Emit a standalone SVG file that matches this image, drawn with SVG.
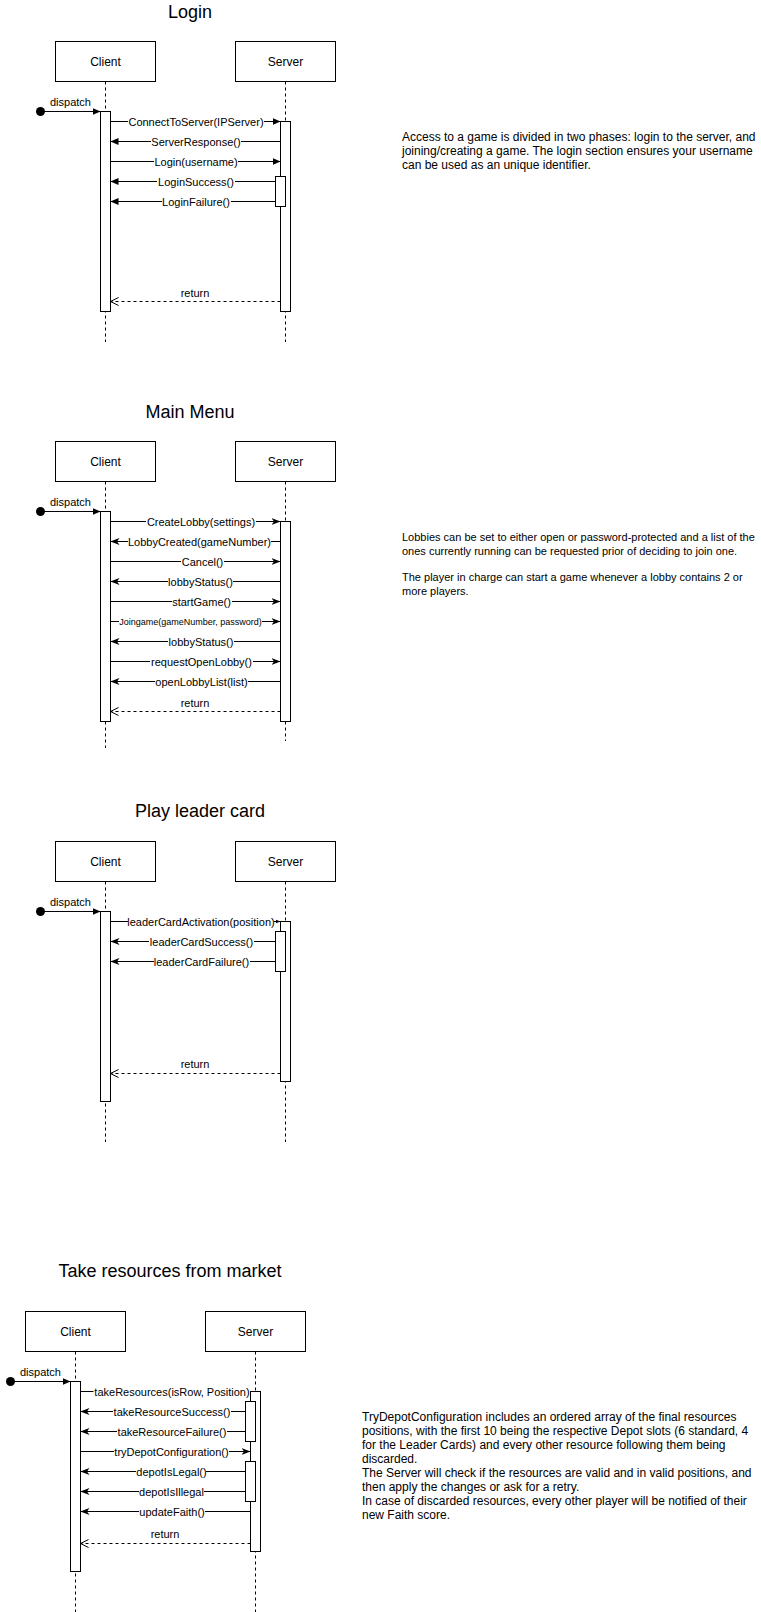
<svg xmlns="http://www.w3.org/2000/svg" width="761" height="1612" viewBox="0 0 761 1612">
<style>
  .bg{fill:#fff}
  .box{fill:#fff;stroke:#000;stroke-width:1}
  .act{fill:#fff;stroke:#000;stroke-width:1}
  .life{stroke:#000;stroke-width:1;stroke-dasharray:3 3;fill:none}
  .msg{stroke:#000;stroke-width:1;fill:none}
  .ret{stroke:#000;stroke-width:1;stroke-dasharray:3 3;fill:none}
  .lb{fill:#fff}
  text{font-family:"Liberation Sans",Arial,Helvetica,sans-serif;fill:#000}
  .title{font-size:18px;text-anchor:middle}
  .name{font-size:12px;text-anchor:middle}
  .ml{font-size:11px;text-anchor:middle}
  .ms{font-size:9px;text-anchor:middle}
  .desc{font-size:12px}
  .desc11{font-size:11px}
</style>
<defs>
  <marker id="block" viewBox="0 0 8 8" refX="8" refY="4" markerWidth="8" markerHeight="8" orient="auto" markerUnits="userSpaceOnUse"><path d="M0,0.5 L8,4 L0,7.5 Z" fill="#000"/></marker>
  <marker id="sblock" viewBox="0 0 5 5" refX="5" refY="2.5" markerWidth="5" markerHeight="5" orient="auto" markerUnits="userSpaceOnUse"><path d="M0,0.5 L5,2.5 L0,4.5 Z" fill="#000"/></marker>
  <marker id="classic" viewBox="0 0 9 8" refX="9" refY="4" markerWidth="9" markerHeight="8" orient="auto" markerUnits="userSpaceOnUse"><path d="M0,0.5 L9,4 L0,7.5 L2.5,4 Z" fill="#000"/></marker>
  <marker id="open" viewBox="0 0 10 10" refX="9" refY="5" markerWidth="10" markerHeight="10" orient="auto" markerUnits="userSpaceOnUse"><path d="M1,1 L9,5 L1,9" fill="none" stroke="#000" stroke-width="1"/></marker>
</defs>
<rect class="bg" x="0" y="0" width="761" height="1612"/>

<!-- ============ Section 1: Login ============ -->
<g id="login-title"><text class="title" x="190" y="17.5">Login</text></g>
<g id="login-lifelines">
  <line class="life" x1="105.5" y1="81.5" x2="105.5" y2="342"/>
  <line class="life" x1="285.5" y1="81.5" x2="285.5" y2="342"/>
</g>
<g id="login-client"><rect class="box" x="55.5" y="41.5" width="100" height="40"/><text class="name" x="105.5" y="65.5">Client</text></g>
<g id="login-server"><rect class="box" x="235.5" y="41.5" width="100" height="40"/><text class="name" x="285.5" y="65.5">Server</text></g>
<g id="login-client-act"><rect class="act" x="100.5" y="111.5" width="10" height="200"/></g>
<g id="login-server-act"><rect class="act" x="280.5" y="121.5" width="10" height="190"/></g>
<g id="login-server-act2"><rect class="act" x="275.5" y="176.5" width="10" height="30"/></g>
<g id="login-start"><circle cx="40.5" cy="111.5" r="4.5" fill="#000"/></g>
<g id="login-connectors">
  <line class="msg" x1="40.5" y1="111.5" x2="100.5" y2="111.5" marker-end="url(#block)"/>
  <text class="ml" x="70.5" y="105.5">dispatch</text>
  <line class="msg" x1="110.5" y1="121.5" x2="280.5" y2="121.5" marker-end="url(#block)"/>
  <rect class="lb" x="128" y="115" width="136" height="13"/><text class="ml" x="196" y="125.5">ConnectToServer(IPServer)</text>
  <line class="msg" x1="280.5" y1="141.5" x2="110.5" y2="141.5" marker-end="url(#block)"/>
  <rect class="lb" x="151" y="135" width="90" height="13"/><text class="ml" x="196" y="145.5">ServerResponse()</text>
  <line class="msg" x1="110.5" y1="161.5" x2="280.5" y2="161.5" marker-end="url(#block)"/>
  <rect class="lb" x="154" y="155" width="84" height="13"/><text class="ml" x="196" y="165.5">Login(username)</text>
  <line class="msg" x1="275.5" y1="181.5" x2="110.5" y2="181.5" marker-end="url(#block)"/>
  <rect class="lb" x="157" y="175" width="78" height="13"/><text class="ml" x="196" y="185.5">LoginSuccess()</text>
  <line class="msg" x1="275.5" y1="201.5" x2="110.5" y2="201.5" marker-end="url(#block)"/>
  <rect class="lb" x="162" y="195" width="69" height="13"/><text class="ml" x="196" y="205.5">LoginFailure()</text>
  <line class="ret" x1="280.5" y1="301.5" x2="110.5" y2="301.5" marker-end="url(#open)"/>
  <text class="ml" x="195" y="297">return</text>
</g>
<g id="login-note">
  <text class="desc" x="402" y="141">Access to a game is divided in two phases: login to the server, and</text>
  <text class="desc" x="402" y="155">joining/creating a game. The login section ensures your username</text>
  <text class="desc" x="402" y="169">can be used as an unique identifier.</text>
</g>

<!-- ============ Section 2: Main Menu ============ -->
<g id="menu-title"><text class="title" x="190" y="417.5">Main Menu</text></g>
<g id="menu-lifelines">
  <line class="life" x1="105.5" y1="481.5" x2="105.5" y2="748"/>
  <line class="life" x1="285.5" y1="481.5" x2="285.5" y2="741"/>
</g>
<g id="menu-client"><rect class="box" x="55.5" y="441.5" width="100" height="40"/><text class="name" x="105.5" y="465.5">Client</text></g>
<g id="menu-server"><rect class="box" x="235.5" y="441.5" width="100" height="40"/><text class="name" x="285.5" y="465.5">Server</text></g>
<g id="menu-client-act"><rect class="act" x="100.5" y="511.5" width="10" height="210"/></g>
<g id="menu-server-act"><rect class="act" x="280.5" y="521.5" width="10" height="200"/></g>
<g id="menu-start"><circle cx="40.5" cy="511.5" r="4.5" fill="#000"/></g>
<g id="menu-connectors">
  <line class="msg" x1="40.5" y1="511.5" x2="100.5" y2="511.5" marker-end="url(#block)"/>
  <text class="ml" x="70.5" y="505.5">dispatch</text>
  <line class="msg" x1="110.5" y1="521.5" x2="280.5" y2="521.5" marker-end="url(#classic)"/>
  <rect class="lb" x="146" y="515" width="110" height="13"/><text class="ml" x="201" y="525.5">CreateLobby(settings)</text>
  <line class="msg" x1="280.5" y1="541.5" x2="110.5" y2="541.5" marker-end="url(#classic)"/>
  <rect class="lb" x="128" y="535" width="143" height="13"/><text class="ml" x="199.5" y="545.5">LobbyCreated(gameNumber)</text>
  <line class="msg" x1="110.5" y1="561.5" x2="280.5" y2="561.5" marker-end="url(#classic)"/>
  <rect class="lb" x="181" y="555" width="43" height="13"/><text class="ml" x="202.5" y="565.5">Cancel()</text>
  <line class="msg" x1="280.5" y1="581.5" x2="110.5" y2="581.5" marker-end="url(#classic)"/>
  <rect class="lb" x="168" y="575" width="65" height="13"/><text class="ml" x="200.5" y="585.5">lobbyStatus()</text>
  <line class="msg" x1="110.5" y1="601.5" x2="280.5" y2="601.5" marker-end="url(#classic)"/>
  <rect class="lb" x="172" y="595" width="60" height="13"/><text class="ml" x="201.5" y="605.5">startGame()</text>
  <line class="msg" x1="110.5" y1="621.5" x2="280.5" y2="621.5" marker-end="url(#classic)"/>
  <rect class="lb" x="119" y="616" width="143" height="11"/><text class="ms" x="190.5" y="624.5">Joingame(gameNumber, password)</text>
  <line class="msg" x1="280.5" y1="641.5" x2="110.5" y2="641.5" marker-end="url(#classic)"/>
  <rect class="lb" x="168" y="635" width="66" height="13"/><text class="ml" x="201" y="645.5">lobbyStatus()</text>
  <line class="msg" x1="110.5" y1="661.5" x2="280.5" y2="661.5" marker-end="url(#classic)"/>
  <rect class="lb" x="150" y="655" width="103" height="13"/><text class="ml" x="201.5" y="665.5">requestOpenLobby()</text>
  <line class="msg" x1="280.5" y1="681.5" x2="110.5" y2="681.5" marker-end="url(#classic)"/>
  <rect class="lb" x="155" y="675" width="93" height="13"/><text class="ml" x="201.5" y="685.5">openLobbyList(list)</text>
  <line class="ret" x1="280.5" y1="711.5" x2="110.5" y2="711.5" marker-end="url(#open)"/>
  <text class="ml" x="195" y="707">return</text>
</g>
<g id="menu-note">
  <text class="desc11" x="402" y="541">Lobbies can be set to either open or password-protected and a list of the</text>
  <text class="desc11" x="402" y="555">ones currently running can be requested prior of deciding to join one.</text>
  <text class="desc11" x="402" y="581">The player in charge can start a game whenever a lobby contains 2 or</text>
  <text class="desc11" x="402" y="595">more players.</text>
</g>

<!-- ============ Section 3: Play leader card ============ -->
<g id="leader-title"><text class="title" x="200" y="817">Play leader card</text></g>
<g id="leader-lifelines">
  <line class="life" x1="105.5" y1="881.5" x2="105.5" y2="1142"/>
  <line class="life" x1="285.5" y1="881.5" x2="285.5" y2="1142"/>
</g>
<g id="leader-client"><rect class="box" x="55.5" y="841.5" width="100" height="40"/><text class="name" x="105.5" y="865.5">Client</text></g>
<g id="leader-server"><rect class="box" x="235.5" y="841.5" width="100" height="40"/><text class="name" x="285.5" y="865.5">Server</text></g>
<g id="leader-client-act"><rect class="act" x="100.5" y="911.5" width="10" height="190"/></g>
<g id="leader-server-act"><rect class="act" x="280.5" y="921.5" width="10" height="160"/></g>
<g id="leader-server-act2"><rect class="act" x="275.5" y="931.5" width="10" height="40"/></g>
<g id="leader-start"><circle cx="40.5" cy="911.5" r="4.5" fill="#000"/></g>
<g id="leader-connectors">
  <line class="msg" x1="40.5" y1="911.5" x2="100.5" y2="911.5" marker-end="url(#block)"/>
  <text class="ml" x="70.5" y="905.5">dispatch</text>
  <line class="msg" x1="110.5" y1="921.5" x2="280.5" y2="921.5" marker-end="url(#sblock)"/>
  <rect class="lb" x="128" y="915" width="146" height="13"/><text class="ml" x="201" y="925.5">leaderCardActivation(position)</text>
  <line class="msg" x1="275.5" y1="941.5" x2="110.5" y2="941.5" marker-end="url(#classic)"/>
  <rect class="lb" x="149" y="935" width="105" height="13"/><text class="ml" x="201.5" y="945.5">leaderCardSuccess()</text>
  <line class="msg" x1="275.5" y1="961.5" x2="110.5" y2="961.5" marker-end="url(#classic)"/>
  <rect class="lb" x="154" y="955" width="96" height="13"/><text class="ml" x="201.5" y="965.5">leaderCardFailure()</text>
  <line class="ret" x1="280.5" y1="1073.5" x2="110.5" y2="1073.5" marker-end="url(#open)"/>
  <text class="ml" x="195" y="1068">return</text>
</g>

<!-- ============ Section 4: Take resources from market ============ -->
<g id="market-title"><text class="title" x="170" y="1277">Take resources from market</text></g>
<g id="market-lifelines">
  <line class="life" x1="75.5" y1="1351.5" x2="75.5" y2="1612"/>
  <line class="life" x1="255.5" y1="1351.5" x2="255.5" y2="1612"/>
</g>
<g id="market-client"><rect class="box" x="25.5" y="1311.5" width="100" height="40"/><text class="name" x="75.5" y="1335.5">Client</text></g>
<g id="market-server"><rect class="box" x="205.5" y="1311.5" width="100" height="40"/><text class="name" x="255.5" y="1335.5">Server</text></g>
<g id="market-client-act"><rect class="act" x="70.5" y="1381.5" width="10" height="190"/></g>
<g id="market-server-act"><rect class="act" x="250.5" y="1391.5" width="10" height="160"/></g>
<g id="market-server-act2"><rect class="act" x="245.5" y="1401.5" width="10" height="40"/></g>
<g id="market-server-act3"><rect class="act" x="245.5" y="1461.5" width="10" height="40"/></g>
<g id="market-start"><circle cx="10.5" cy="1381.5" r="4.5" fill="#000"/></g>
<g id="market-connectors">
  <line class="msg" x1="10.5" y1="1381.5" x2="70.5" y2="1381.5" marker-end="url(#block)"/>
  <text class="ml" x="40.5" y="1375.5">dispatch</text>
  <line class="msg" x1="80.5" y1="1391.5" x2="250.5" y2="1391.5" marker-end="url(#classic)"/>
  <rect class="lb" x="93.5" y="1385" width="156.5" height="13"/><text class="ml" x="172" y="1395.5">takeResources(isRow, Position)</text>
  <line class="msg" x1="245.5" y1="1411.5" x2="80.5" y2="1411.5" marker-end="url(#classic)"/>
  <rect class="lb" x="113" y="1405" width="118" height="13"/><text class="ml" x="172" y="1415.5">takeResourceSuccess()</text>
  <line class="msg" x1="245.5" y1="1431.5" x2="80.5" y2="1431.5" marker-end="url(#classic)"/>
  <rect class="lb" x="117" y="1425" width="110" height="13"/><text class="ml" x="172" y="1435.5">takeResourceFailure()</text>
  <line class="msg" x1="80.5" y1="1451.5" x2="250.5" y2="1451.5" marker-end="url(#classic)"/>
  <rect class="lb" x="114" y="1445" width="115" height="13"/><text class="ml" x="171.5" y="1455.5">tryDepotConfiguration()</text>
  <line class="msg" x1="245.5" y1="1471.5" x2="80.5" y2="1471.5" marker-end="url(#classic)"/>
  <rect class="lb" x="136" y="1465" width="70" height="13"/><text class="ml" x="171.5" y="1475.5">depotIsLegal()</text>
  <line class="msg" x1="245.5" y1="1491.5" x2="80.5" y2="1491.5" marker-end="url(#classic)"/>
  <rect class="lb" x="139" y="1485" width="65" height="13"/><text class="ml" x="171.5" y="1495.5">depotIsIllegal</text>
  <line class="msg" x1="250.5" y1="1511.5" x2="80.5" y2="1511.5" marker-end="url(#classic)"/>
  <rect class="lb" x="139" y="1505" width="66" height="13"/><text class="ml" x="172" y="1515.5">updateFaith()</text>
  <line class="ret" x1="250.5" y1="1543.5" x2="80.5" y2="1543.5" marker-end="url(#open)"/>
  <text class="ml" x="165" y="1538">return</text>
</g>
<g id="market-note">
  <text class="desc" x="362" y="1421">TryDepotConfiguration includes an ordered array of the final resources</text>
  <text class="desc" x="362" y="1435">positions, with the first 10 being the respective Depot slots (6 standard, 4</text>
  <text class="desc" x="362" y="1449">for the Leader Cards) and every other resource following them being</text>
  <text class="desc" x="362" y="1463">discarded.</text>
  <text class="desc" x="362" y="1477">The Server will check if the resources are valid and in valid positions, and</text>
  <text class="desc" x="362" y="1491">then apply the changes or ask for a retry.</text>
  <text class="desc" x="362" y="1505">In case of discarded resources, every other player will be notified of their</text>
  <text class="desc" x="362" y="1519">new Faith score.</text>
</g>
</svg>
